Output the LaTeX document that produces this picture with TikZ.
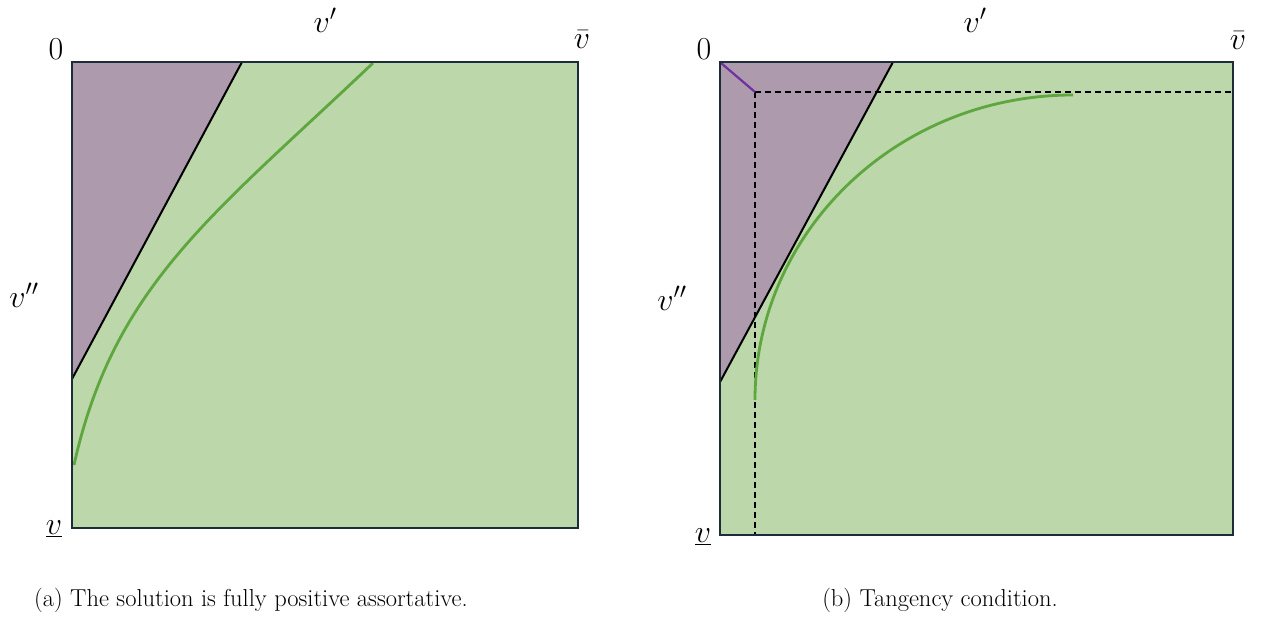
\RequirePackage{fix-cm}
\documentclass[tikz,border=0pt]{standalone}
\usepackage{fontspec}
\definecolor{greenfill}{HTML}{BCD7AA}
\definecolor{purplefill}{HTML}{AD9AAC}
\definecolor{bordc}{HTML}{1E2B38}
\definecolor{curvec}{HTML}{5EA63E}
\definecolor{purpline}{HTML}{7030A0}
\begin{document}
\begin{tikzpicture}[x=1pt,y=-1pt,
  border/.style={draw=bordc, line width=2.5pt},
  sepline/.style={draw=black, line width=2pt},
  curve/.style={draw=curvec, line width=2.8pt},
  guide/.style={draw=black, line width=1.3pt, dash pattern=on 6pt off 4pt},
  lab/.style={inner sep=0pt, font=\fontsize{32}{36}\selectfont},
  captext/.style={inner sep=0pt, font=\fontsize{24.5}{28}\selectfont}]
\useasboundingbox (0,0) rectangle (1265,617);
% ---------- panel a ----------
\fill[greenfill] (72,62) rectangle (578,528);
\fill[purplefill] (72,62) -- (242,62) -- (72,379) -- cycle;
\draw[curve] (74,465) .. controls (114,285) and (213,215) .. (373,63);
\draw[sepline] (242,62) -- (72,379);
\draw[border] (72,62) rectangle (578,528);
\node[lab] (a0) at (56,49) {$0$};
\node[lab] (abar) at (582,40) {$\bar{v}$};
\node[lab] (ap) at (325,20) {$v'$};
\node[lab] (app) at (24,295) {$v''$};
\node[lab] (alow) at (54,529) {$\underline{v}$};
\node[captext] (capa) at (251,600) {(a) The solution is fully positive assortative.};
% ---------- panel b ----------
\fill[greenfill] (720,62) rectangle (1233,535);
\fill[purplefill] (720,62) -- (893,62) -- (720,382) -- cycle;
\draw[guide] (755,92) -- (1233,92);
\draw[guide] (755,92) -- (755,535);
\draw[curve] (755,400) .. controls (755,232) and (897,95) .. (1073,95);
\draw[sepline] (893,62) -- (720,382);
\draw[draw=purpline, line width=2.2pt] (721,63) -- (755,92);
\draw[border] (720,62) rectangle (1233,535);
\node[lab] (b0) at (704,49) {$0$};
\node[lab] (bbar) at (1238,41) {$\bar{v}$};
\node[lab] (bp) at (975,20) {$v'$};
\node[lab] (bpp) at (672,298) {$v''$};
\node[lab] (blow) at (703,537) {$\underline{v}$};
\node[captext] (capb) at (940,600) {(b) Tangency condition.};
\end{tikzpicture}
\end{document}
